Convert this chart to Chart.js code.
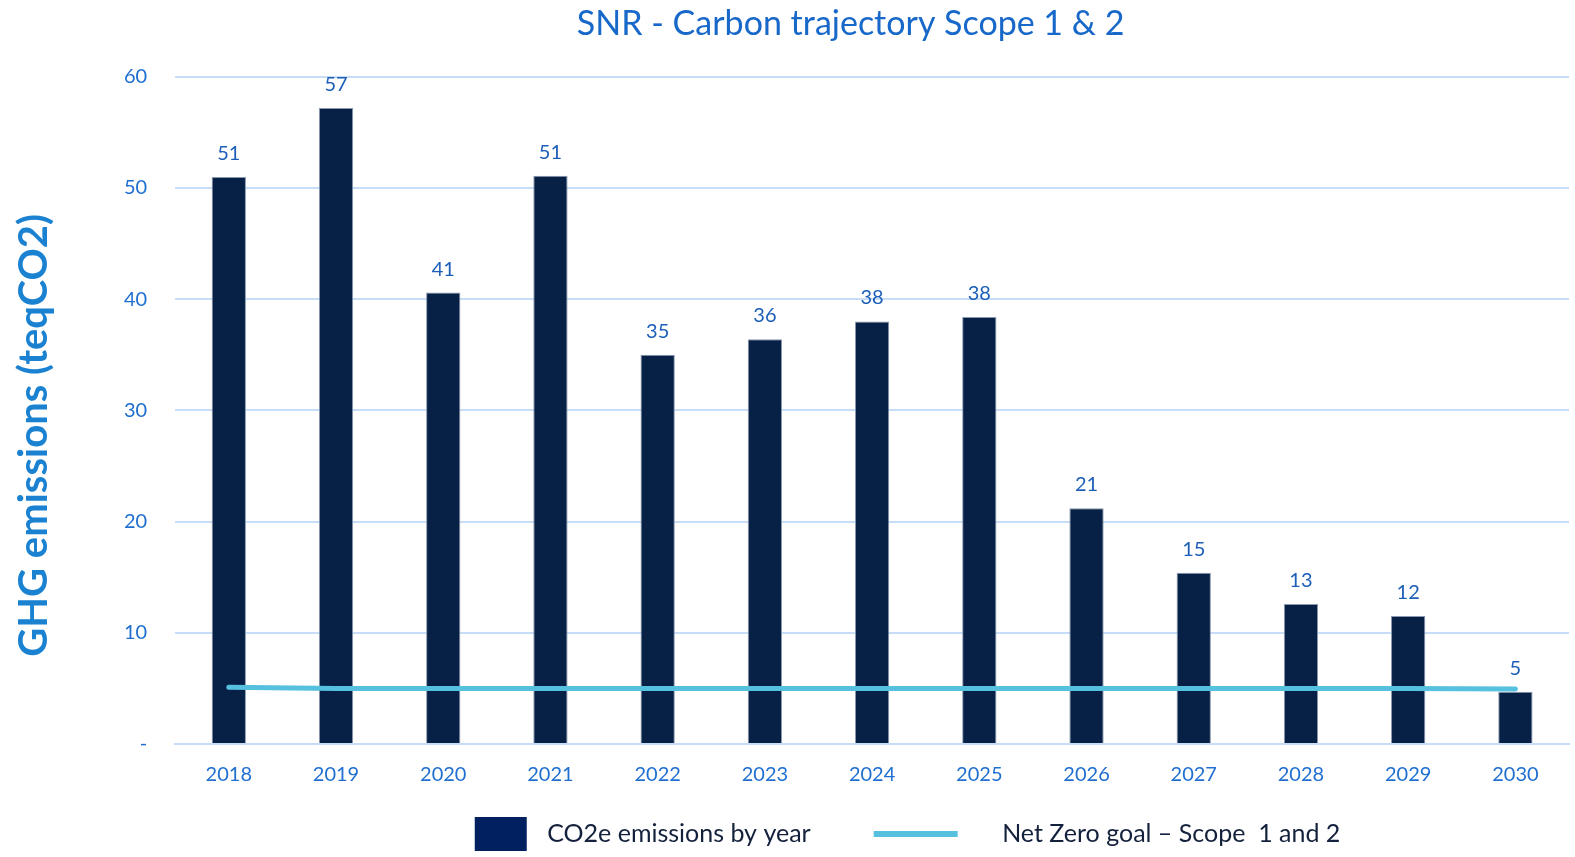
<!doctype html>
<html lang="en">
<head>
    <meta charset="utf-8">
    <title>SNR - Carbon trajectory</title>
    <script src="https://cdn.jsdelivr.net/npm/chart.js@4.4.0/dist/chart.umd.min.js"></script>
    <style>
        html, body {
            margin: 0;
            padding: 0;
            background: #ffffff;
            overflow: hidden;
        }
        .chart-container {
            position: relative;
            width: 1575px;
            height: 857px;
        }
    </style>
</head>
<body>
    <div class="chart-container"><canvas id="chart"></canvas></div>
    <script>
        const years = ["2018", "2019", "2020", "2021", "2022", "2023", "2024",
                       "2025", "2026", "2027", "2028", "2029", "2030"];
        const emissions = [51.0, 57.2, 40.6, 51.1, 35.0, 36.4, 38.0, 38.4, 21.2, 15.4, 12.6, 11.5, 4.7];
        const netZeroGoal = [5.1, 4.98, 4.98, 4.98, 4.98, 4.98, 4.98, 4.98, 4.98, 4.98, 4.98, 4.98, 4.95];
        const yTicks = [0, 10, 20, 30, 40, 50, 60];
        const seriesNames = ["CO2e emissions by year", "Net Zero goal \u2013 Scope  1 and 2"];

        const FONT = "Lato, 'Open Sans', sans-serif";
        const SYMBOL_W = 156;
        // trailing blanks nudge the centred texts the way the original sits
        const TITLE_PAD = "\u2003  ";
        const YTITLE_PAD = "\u2003\u2002";
        const LEGEND_PAD = "\u2003 ";

        // small pictures used as legend symbols
        function symbol(w, h, draw) {
            const c = document.createElement("canvas");
            c.width = w;
            c.height = h;
            draw(c.getContext("2d"));
            return c;
        }
        const boxSymbol = symbol(SYMBOL_W, 34, (g) => {
            g.fillStyle = "#00205f";
            g.fillRect(96, 0, 52, 34);
        });
        const lineSymbol = symbol(SYMBOL_W, 6, (g) => {
            g.fillStyle = "#56c1de";
            g.fillRect(40, 0, 84, 6);
        });

        // numbers above the bars
        const valueLabels = {
            id: "valueLabels",
            afterDatasetsDraw(chart) {
                const meta = chart.getDatasetMeta(0);
                const ctx = chart.ctx;
                ctx.save();
                ctx.font = "20px " + FONT;
                ctx.fillStyle = "#1d5fb8";
                ctx.textAlign = "center";
                ctx.textBaseline = "alphabetic";
                meta.data.forEach((bar, i) => {
                    ctx.fillText(String(Math.round(emissions[i])), bar.x, bar.y - 17);
                });
                ctx.restore();
            }
        };

        const ctx = document.getElementById("chart").getContext("2d");
        new Chart(ctx, {
            type: "bar",
            data: {
                labels: years,
                datasets: [{
                    label: seriesNames[0],
                    data: emissions,
                    backgroundColor: "#062046",
                    borderColor: "#8a99b0",
                    borderWidth: 1,
                    barPercentage: 0.32,
                    categoryPercentage: 1,
                    order: 2,
                }, {
                    type: "line",
                    label: seriesNames[1] + LEGEND_PAD,
                    data: netZeroGoal,
                    borderColor: "#56c1de",
                    borderWidth: 5,
                    borderCapStyle: "round",
                    pointRadius: 0,
                    tension: 0,
                    order: 1,
                }],
            },
            options: {
                responsive: true,
                maintainAspectRatio: false,
                animation: false,
                layout: {
                    padding: { left: 10, right: 6, top: 4, bottom: 1 },
                },
                plugins: {
                    title: {
                        display: true,
                        text: "SNR - Carbon trajectory Scope 1 & 2" + TITLE_PAD,
                        color: "#1768c9",
                        fullSize: false,
                        font: { family: FONT, size: 34, weight: "normal" },
                        padding: { top: 0, bottom: 32 },
                    },
                    legend: {
                        position: "bottom",
                        fullSize: false,
                        labels: {
                            usePointStyle: true,
                            pointStyleWidth: SYMBOL_W,
                            boxHeight: 25,
                            padding: 23,
                            color: "#14213d",
                            font: { family: FONT, size: 25 },
                            sort: (a, b) => a.datasetIndex - b.datasetIndex,
                            generateLabels(chart) {
                                const items = Chart.defaults.plugins.legend.labels.generateLabels(chart);
                                items.forEach((item) => {
                                    item.pointStyle = item.datasetIndex === 0 ? boxSymbol : lineSymbol;
                                });
                                return items;
                            },
                        },
                    },
                    tooltip: { enabled: false },
                },
                scales: {
                    x: {
                        offset: true,
                        grid: { display: false },
                        border: { color: "#c7dcf6", width: 2 },
                        ticks: {
                            color: "#1f6fd1",
                            font: { family: FONT, size: 20 },
                            padding: 11,
                        },
                    },
                    y: {
                        min: yTicks[0],
                        max: yTicks[yTicks.length - 1],
                        afterBuildTicks(axis) {
                            axis.ticks = yTicks.map((v) => ({ value: v }));
                        },
                        grid: {
                            color: "#c7dcf6",
                            lineWidth: 2,
                            drawTicks: false,
                        },
                        border: { display: false },
                        ticks: {
                            color: "#1f6fd1",
                            font: { family: FONT, size: 20 },
                            padding: 28,
                            callback: (v) => (v === 0 ? "-" : v),
                        },
                        title: {
                            display: true,
                            text: "GHG emissions (teqCO2)" + YTITLE_PAD,
                            color: "#1b82d1",
                            font: { family: FONT, size: 40, weight: "bold" },
                            padding: { top: 0, bottom: 38 },
                        },
                    },
                },
            },
            plugins: [valueLabels],
        });
    </script>
</body>
</html>
